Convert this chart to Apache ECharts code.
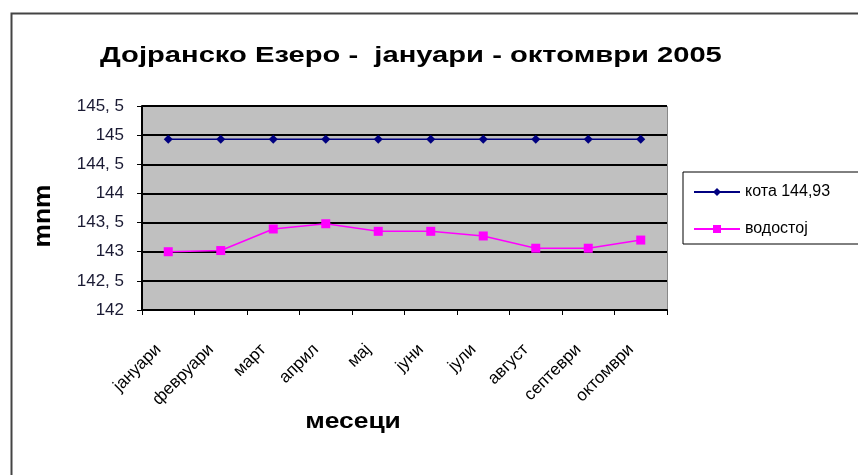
<!DOCTYPE html>
<html><head><meta charset="utf-8">
<script src="https://cdn.jsdelivr.net/npm/echarts@6/dist/echarts.min.js"></script>
<style>html,body{margin:0;padding:0;background:#fff}#c{width:858px;height:475px}</style>
</head><body><div id="c"></div>
<script>
var months = ['јануари','февруари','март','април','мај','јуни','јули','август','септеври','октомври'];
var kota = [144.93,144.93,144.93,144.93,144.93,144.93,144.93,144.93,144.93,144.93];
var vodostoj = [143.0,143.02,143.39,143.48,143.35,143.35,143.27,143.06,143.06,143.2];
var seriesNames = ['кота 144,93','водостој'];
var titleText = 'Дојранско Езеро -  јануари - октомври 2005';
var xName = 'месеци';
var yName = 'mnm';

var chart = echarts.init(document.getElementById('c'));
var font = 'Liberation Sans, Arial, sans-serif';
chart.setOption({
  animation:false,
  backgroundColor:'#fff',
  graphic:[
    {type:'rect',left:9,top:11,shape:{width:900,height:500},style:{fill:'none',stroke:'#444',lineWidth:2},z:-1},
    {type:'rect',left:142,top:106,shape:{width:525,height:204},style:{fill:'#C0C0C0',stroke:'#888',lineWidth:1},z:-1},
    {type:'text',x:100,y:56,scaleX:1.325,style:{text:titleText,font:'bold 22px '+font,fill:'#000',textAlign:'left',textVerticalAlign:'middle'}},
    {type:'text',x:353,y:422,scaleX:1.2,style:{text:xName,font:'bold 22px '+font,fill:'#000',textAlign:'center',textVerticalAlign:'middle'}},
    {type:'text',x:43,y:216,rotation:Math.PI/2,scaleX:1.1,style:{text:yName,font:'bold 24px '+font,fill:'#000',textAlign:'center',textVerticalAlign:'middle'}}
  ],
  legend:{orient:'vertical',left:683,top:172,padding:[12,60,7,10],itemGap:21,itemWidth:46,itemHeight:10,
    borderColor:'#000',borderWidth:1,textStyle:{fontFamily:font,fontSize:16,color:'#000'},data:seriesNames},
  grid:{left:142,right:191,top:106,bottom:165,containLabel:false},
  xAxis:{type:'category',data:months,boundaryGap:true,
    axisLine:{lineStyle:{color:'#000',width:2}},
    axisTick:{show:true,inside:false,length:5,lineStyle:{color:'#000'}},
    axisLabel:{rotate:45,interval:0,margin:27,padding:[0,14,0,0],fontFamily:font,fontSize:17,color:'#000'}},
  yAxis:{type:'value',min:142,max:145.5,interval:0.5,
    axisLine:{show:true,lineStyle:{color:'#000',width:2}},
    axisTick:{show:true,length:5,lineStyle:{color:'#000'}},
    splitLine:{show:true,lineStyle:{color:'#000',width:2}},
    axisLabel:{fontFamily:font,fontSize:17,color:'#1a1a33',margin:18,
      formatter:function(v){var s=(Math.round(v*10)/10).toString();return s.replace('.',', ');}}},
  series:[
    {name:seriesNames[0],type:'line',data:kota,symbol:'diamond',symbolSize:9,
      lineStyle:{color:'#000080',width:1.5},itemStyle:{color:'#000080'}},
    {name:seriesNames[1],type:'line',data:vodostoj,symbol:'rect',symbolSize:9,
      lineStyle:{color:'#FF00FF',width:1.5},itemStyle:{color:'#FF00FF'}}
  ]
});
</script></body></html>
